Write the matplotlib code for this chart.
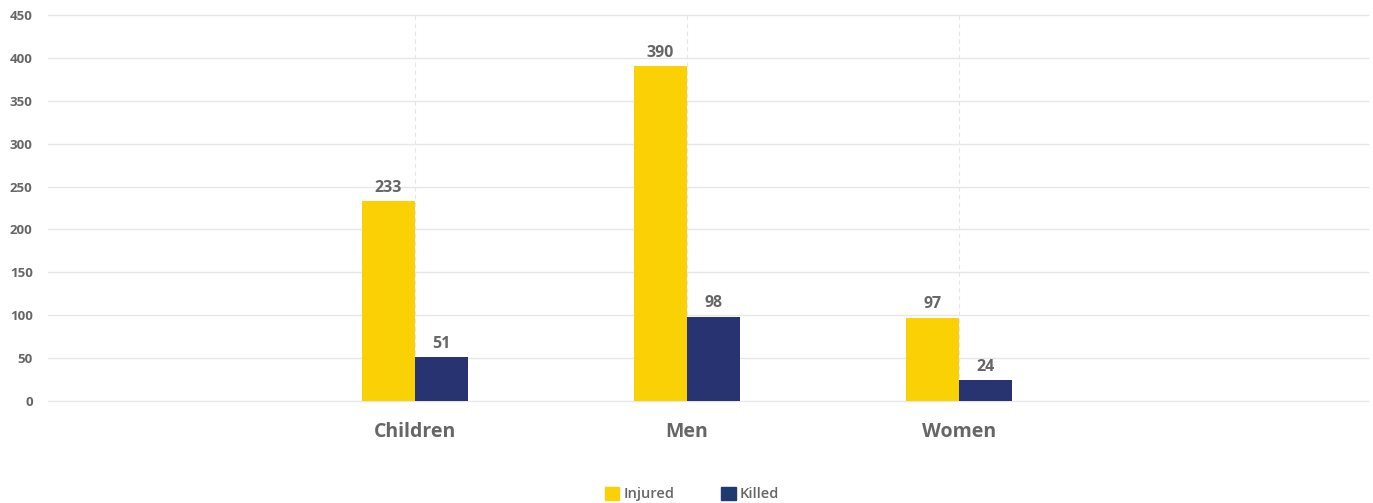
import numpy as np
import matplotlib
matplotlib.use("Agg")
import matplotlib.pyplot as plt
from matplotlib.patches import Patch

# chart data
CATEGORIES = ["Children", "Men", "Women"]
INJURED = [233, 390, 97]
KILLED = [51, 98, 24]
Y_TICKS = [0, 50, 100, 150, 200, 250, 300, 350, 400, 450]

INJURED_COLOR = "#fad105"
KILLED_COLOR = "#283372"
TEXT_COLOR = "#666666"

plt.rcParams["font.family"] = ["Open Sans", "DejaVu Sans"]

fig = plt.figure(figsize=(13.73, 5.03), dpi=100)
ax = fig.add_axes([48 / 1373, 1 - 401 / 503, 1320 / 1373, 386 / 503])

x = np.arange(len(CATEGORIES))
width = 0.195
bars_inj = ax.bar(x - width / 2, INJURED, width, color=INJURED_COLOR, zorder=3)
bars_kil = ax.bar(x + width / 2, KILLED, width, color=KILLED_COLOR, zorder=3)

for bars, vals in ((bars_inj, INJURED), (bars_kil, KILLED)):
    for b, v in zip(bars, vals):
        ax.annotate(str(v), (b.get_x() + b.get_width() / 2, b.get_height()),
                    xytext=(0, 4), textcoords="offset points", ha="center", va="bottom",
                    fontsize=11.5, fontweight="bold", color=TEXT_COLOR)

ax.set_xlim(-1.349, 3.504)
ax.set_ylim(0, 450)
ax.set_yticks(Y_TICKS)
ax.set_yticklabels([str(t) for t in Y_TICKS], fontsize=9.5, fontweight="bold", color=TEXT_COLOR)
ax.set_xticks(x)
ax.set_xticklabels(CATEGORIES, fontsize=14, fontweight="bold", color=TEXT_COLOR)
ax.tick_params(axis="both", length=0)
ax.tick_params(axis="x", pad=15)
ax.tick_params(axis="y", pad=11)

ax.grid(axis="y", color="#e6e6e6", linewidth=1, zorder=0)
for line in ax.get_ygridlines():
    line.set_clip_on(False)
for xc in x:
    ax.axvline(xc, color="#e6e6e6", linewidth=0.8, linestyle=(0, (4, 3)), zorder=0)
for s in ax.spines.values():
    s.set_visible(False)

handles = [Patch(color=INJURED_COLOR, label="Injured"), Patch(color="#1e3a70", label="Killed")]
fig.legend(handles=handles, loc="center", bbox_to_anchor=(0.504, 1 - 494 / 503), ncol=2,
           frameon=False, handlelength=1.0, handleheight=1.0, handletextpad=0.3,
           columnspacing=3.2, prop={"size": 10.5, "weight": "semibold"}, labelcolor=TEXT_COLOR)

fig.savefig("out.png", dpi=100)
